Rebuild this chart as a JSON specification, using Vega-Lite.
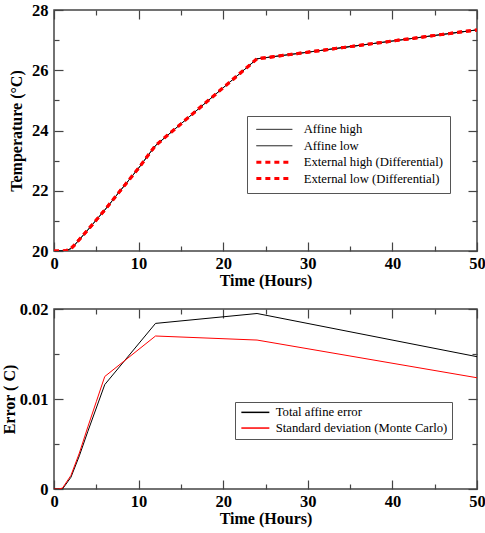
{
  "$schema": "https://vega.github.io/schema/vega-lite/v6.json",
  "padding": {"top": 1, "left": 0, "right": 0, "bottom": 0},
  "background": "white",
  "spacing": 10,
  "config": {
    "font": "Liberation Serif",
    "view": {"stroke": "#444", "strokeWidth": 1.5},
    "axis": {
      "grid": false,
      "domain": false,
      "tickColor": "#444",
      "tickWidth": 1.2,
      "labelFont": "Liberation Serif",
      "labelFontSize": 16.5,
      "labelFontWeight": "bold",
      "labelColor": "#000",
      "titleFont": "Liberation Serif",
      "titleFontSize": 16,
      "titleFontWeight": "bold",
      "titleColor": "#000"
    },
    "legend": {
      "orient": "none",
      "title": null,
      "strokeColor": "#555",
      "fillColor": "white",
      "labelFont": "Liberation Serif",
      "labelFontSize": 12.7,
      "labelColor": "#000",
      "labelLimit": 400,
      "symbolType": "M0,0H8"
    }
  },
  "resolve": {"scale": {"color": "independent", "strokeDash": "independent", "strokeWidth": "independent"}},
  "vconcat": [
    {
      "width": 423,
      "height": 241,
      "data": {"values": [
        {"series": "Affine high", "t": 0, "v": 20.0}, {"series": "Affine high", "t": 1, "v": 20.0}, {"series": "Affine high", "t": 1.5, "v": 20.02}, {"series": "Affine high", "t": 2, "v": 20.08}, {"series": "Affine high", "t": 2.5, "v": 20.22}, {"series": "Affine high", "t": 4, "v": 20.7}, {"series": "Affine high", "t": 6, "v": 21.36}, {"series": "Affine high", "t": 8, "v": 22.06}, {"series": "Affine high", "t": 10, "v": 22.75}, {"series": "Affine high", "t": 11, "v": 23.13}, {"series": "Affine high", "t": 12, "v": 23.5}, {"series": "Affine high", "t": 14, "v": 23.98}, {"series": "Affine high", "t": 16, "v": 24.46}, {"series": "Affine high", "t": 18, "v": 24.94}, {"series": "Affine high", "t": 20, "v": 25.42}, {"series": "Affine high", "t": 22, "v": 25.9}, {"series": "Affine high", "t": 24, "v": 26.38}, {"series": "Affine high", "t": 30, "v": 26.6}, {"series": "Affine high", "t": 40, "v": 26.97}, {"series": "Affine high", "t": 50, "v": 27.34},
        {"series": "Affine low", "t": 0, "v": 20.0}, {"series": "Affine low", "t": 1, "v": 20.0}, {"series": "Affine low", "t": 1.5, "v": 20.02}, {"series": "Affine low", "t": 2, "v": 20.08}, {"series": "Affine low", "t": 2.5, "v": 20.22}, {"series": "Affine low", "t": 4, "v": 20.7}, {"series": "Affine low", "t": 6, "v": 21.36}, {"series": "Affine low", "t": 8, "v": 22.06}, {"series": "Affine low", "t": 10, "v": 22.75}, {"series": "Affine low", "t": 11, "v": 23.13}, {"series": "Affine low", "t": 12, "v": 23.5}, {"series": "Affine low", "t": 14, "v": 23.98}, {"series": "Affine low", "t": 16, "v": 24.46}, {"series": "Affine low", "t": 18, "v": 24.94}, {"series": "Affine low", "t": 20, "v": 25.42}, {"series": "Affine low", "t": 22, "v": 25.9}, {"series": "Affine low", "t": 24, "v": 26.38}, {"series": "Affine low", "t": 30, "v": 26.6}, {"series": "Affine low", "t": 40, "v": 26.97}, {"series": "Affine low", "t": 50, "v": 27.34},
        {"series": "External high (Differential)", "t": 0, "v": 20.0}, {"series": "External high (Differential)", "t": 1, "v": 20.0}, {"series": "External high (Differential)", "t": 1.5, "v": 20.02}, {"series": "External high (Differential)", "t": 2, "v": 20.08}, {"series": "External high (Differential)", "t": 2.5, "v": 20.22}, {"series": "External high (Differential)", "t": 4, "v": 20.7}, {"series": "External high (Differential)", "t": 6, "v": 21.36}, {"series": "External high (Differential)", "t": 8, "v": 22.06}, {"series": "External high (Differential)", "t": 10, "v": 22.75}, {"series": "External high (Differential)", "t": 11, "v": 23.13}, {"series": "External high (Differential)", "t": 12, "v": 23.5}, {"series": "External high (Differential)", "t": 14, "v": 23.98}, {"series": "External high (Differential)", "t": 16, "v": 24.46}, {"series": "External high (Differential)", "t": 18, "v": 24.94}, {"series": "External high (Differential)", "t": 20, "v": 25.42}, {"series": "External high (Differential)", "t": 22, "v": 25.9}, {"series": "External high (Differential)", "t": 24, "v": 26.38}, {"series": "External high (Differential)", "t": 30, "v": 26.6}, {"series": "External high (Differential)", "t": 40, "v": 26.97}, {"series": "External high (Differential)", "t": 50, "v": 27.34},
        {"series": "External low (Differential)", "t": 0, "v": 20.0}, {"series": "External low (Differential)", "t": 1, "v": 20.0}, {"series": "External low (Differential)", "t": 1.5, "v": 20.02}, {"series": "External low (Differential)", "t": 2, "v": 20.08}, {"series": "External low (Differential)", "t": 2.5, "v": 20.22}, {"series": "External low (Differential)", "t": 4, "v": 20.7}, {"series": "External low (Differential)", "t": 6, "v": 21.36}, {"series": "External low (Differential)", "t": 8, "v": 22.06}, {"series": "External low (Differential)", "t": 10, "v": 22.75}, {"series": "External low (Differential)", "t": 11, "v": 23.13}, {"series": "External low (Differential)", "t": 12, "v": 23.5}, {"series": "External low (Differential)", "t": 14, "v": 23.98}, {"series": "External low (Differential)", "t": 16, "v": 24.46}, {"series": "External low (Differential)", "t": 18, "v": 24.94}, {"series": "External low (Differential)", "t": 20, "v": 25.42}, {"series": "External low (Differential)", "t": 22, "v": 25.9}, {"series": "External low (Differential)", "t": 24, "v": 26.38}, {"series": "External low (Differential)", "t": 30, "v": 26.6}, {"series": "External low (Differential)", "t": 40, "v": 26.97}, {"series": "External low (Differential)", "t": 50, "v": 27.34}
      ]},
      "layer": [
        {
          "mark": {"type": "line", "clip": true},
          "encoding": {
            "x": {"field": "t", "type": "quantitative", "scale": {"domain": [0, 50], "nice": false}, "title": "Time (Hours)",
              "axis": {"values": [0, 5, 10, 15, 20, 25, 30, 35, 40, 45, 50], "labelExpr": "datum.value % 10 === 0 ? datum.label : ''", "tickSize": {"condition": {"test": "datum.value % 10 === 0", "value": -9}, "value": -5}, "labelPadding": 13, "titlePadding": 1, "labelFlush": false}},
            "y": {"field": "v", "type": "quantitative", "scale": {"domain": [20, 28], "nice": false, "zero": false}, "title": "Temperature (°C)",
              "axis": {"values": [20, 21, 22, 23, 24, 25, 26, 27, 28], "labelExpr": "datum.value % 2 === 0 ? datum.label : ''", "tickSize": {"condition": {"test": "datum.value % 2 === 0", "value": -9}, "value": -5}, "labelPadding": 15, "titlePadding": 7}},
            "color": {"field": "series", "type": "nominal", "sort": null,
              "scale": {"domain": ["Affine high", "Affine low", "External high (Differential)", "External low (Differential)"], "range": ["#000000", "#000000", "#ff0000", "#ff0000"]},
              "legend": {"legendX": 193, "legendY": 106, "symbolSize": 81, "symbolOffset": -4, "rowPadding": 2.4, "labelOffset": 41, "padding": 7}},
            "strokeDash": {"field": "series", "type": "nominal", "sort": null,
              "scale": {"type": "ordinal", "domain": ["Affine high", "Affine low", "External high (Differential)", "External low (Differential)"], "range": [[1, 0], [1, 0], [5, 4], [5, 4]]}},
            "strokeWidth": {"field": "series", "type": "nominal", "sort": null,
              "scale": {"type": "ordinal", "domain": ["Affine high", "Affine low", "External high (Differential)", "External low (Differential)"], "range": [1, 1, 3, 3]}}
          }
        },
        {
          "mark": {"type": "line", "opacity": 0},
          "encoding": {
            "x": {"field": "t", "type": "quantitative", "scale": {"domain": [0, 50], "nice": false},
              "axis": {"orient": "top", "title": null, "labels": false, "values": [0, 5, 10, 15, 20, 25, 30, 35, 40, 45, 50], "tickSize": {"condition": {"test": "datum.value % 10 === 0", "value": -9}, "value": -5}}},
            "y": {"field": "v", "type": "quantitative", "scale": {"domain": [20, 28], "nice": false, "zero": false},
              "axis": {"orient": "right", "title": null, "labels": false, "values": [20, 21, 22, 23, 24, 25, 26, 27, 28], "tickSize": {"condition": {"test": "datum.value % 2 === 0", "value": -9}, "value": -5}}}
          }
        }
      ],
      "resolve": {"axis": {"x": "independent", "y": "independent"}}
    },
    {
      "width": 423,
      "height": 180,
      "data": {"values": [
        {"series": "Total affine error", "t": 0, "v": 0}, {"series": "Total affine error", "t": 1, "v": 0}, {"series": "Total affine error", "t": 2, "v": 0.0013}, {"series": "Total affine error", "t": 3, "v": 0.0037}, {"series": "Total affine error", "t": 4, "v": 0.0064}, {"series": "Total affine error", "t": 5, "v": 0.009}, {"series": "Total affine error", "t": 6, "v": 0.0116}, {"series": "Total affine error", "t": 12, "v": 0.0184}, {"series": "Total affine error", "t": 24, "v": 0.0195}, {"series": "Total affine error", "t": 50, "v": 0.0147},
        {"series": "Standard deviation (Monte Carlo)", "t": 0, "v": 0}, {"series": "Standard deviation (Monte Carlo)", "t": 0.5, "v": 0}, {"series": "Standard deviation (Monte Carlo)", "t": 1, "v": 0.0001}, {"series": "Standard deviation (Monte Carlo)", "t": 2, "v": 0.0015}, {"series": "Standard deviation (Monte Carlo)", "t": 3, "v": 0.004}, {"series": "Standard deviation (Monte Carlo)", "t": 4, "v": 0.0069}, {"series": "Standard deviation (Monte Carlo)", "t": 5, "v": 0.0097}, {"series": "Standard deviation (Monte Carlo)", "t": 6, "v": 0.0125}, {"series": "Standard deviation (Monte Carlo)", "t": 12, "v": 0.017}, {"series": "Standard deviation (Monte Carlo)", "t": 24, "v": 0.01655}, {"series": "Standard deviation (Monte Carlo)", "t": 50, "v": 0.01236}
      ]},
      "layer": [
        {
          "mark": {"type": "line", "clip": true, "strokeWidth": 1},
          "encoding": {
            "x": {"field": "t", "type": "quantitative", "scale": {"domain": [0, 50], "nice": false}, "title": "Time (Hours)",
              "axis": {"values": [0, 5, 10, 15, 20, 25, 30, 35, 40, 45, 50], "labelExpr": "datum.value % 10 === 0 ? datum.label : ''", "tickSize": {"condition": {"test": "datum.value % 10 === 0", "value": -9}, "value": -5}, "labelPadding": 13, "titlePadding": 1, "labelFlush": false}},
            "y": {"field": "v", "type": "quantitative", "scale": {"domain": [0, 0.02], "nice": false}, "title": "Error ( C)",
              "axis": {"values": [0, 0.005, 0.01, 0.015, 0.02], "labelExpr": "round(datum.value * 1000) % 10 === 0 ? format(datum.value, '.2~f') : ''", "tickSize": {"condition": {"test": "round(datum.value * 1000) % 10 === 0", "value": -9}, "value": -5}, "labelPadding": 15, "titlePadding": 1.5}},
            "color": {"field": "series", "type": "nominal", "sort": null,
              "scale": {"domain": ["Total affine error", "Standard deviation (Monte Carlo)"], "range": ["#000000", "#ff0000"]},
              "legend": {"legendX": 181, "legendY": 93, "symbolSize": 49, "symbolOffset": -4, "rowPadding": 1.7, "labelOffset": 28, "padding": 4}}
          }
        },
        {
          "mark": {"type": "line", "opacity": 0},
          "encoding": {
            "x": {"field": "t", "type": "quantitative", "scale": {"domain": [0, 50], "nice": false},
              "axis": {"orient": "top", "title": null, "labels": false, "values": [0, 5, 10, 15, 20, 25, 30, 35, 40, 45, 50], "tickSize": {"condition": {"test": "datum.value % 10 === 0", "value": -9}, "value": -5}}},
            "y": {"field": "v", "type": "quantitative", "scale": {"domain": [0, 0.02], "nice": false},
              "axis": {"orient": "right", "title": null, "labels": false, "values": [0, 0.005, 0.01, 0.015, 0.02], "tickSize": {"condition": {"test": "round(datum.value * 1000) % 10 === 0", "value": -9}, "value": -5}}}
          }
        }
      ],
      "resolve": {"axis": {"x": "independent", "y": "independent"}}
    }
  ]
}
